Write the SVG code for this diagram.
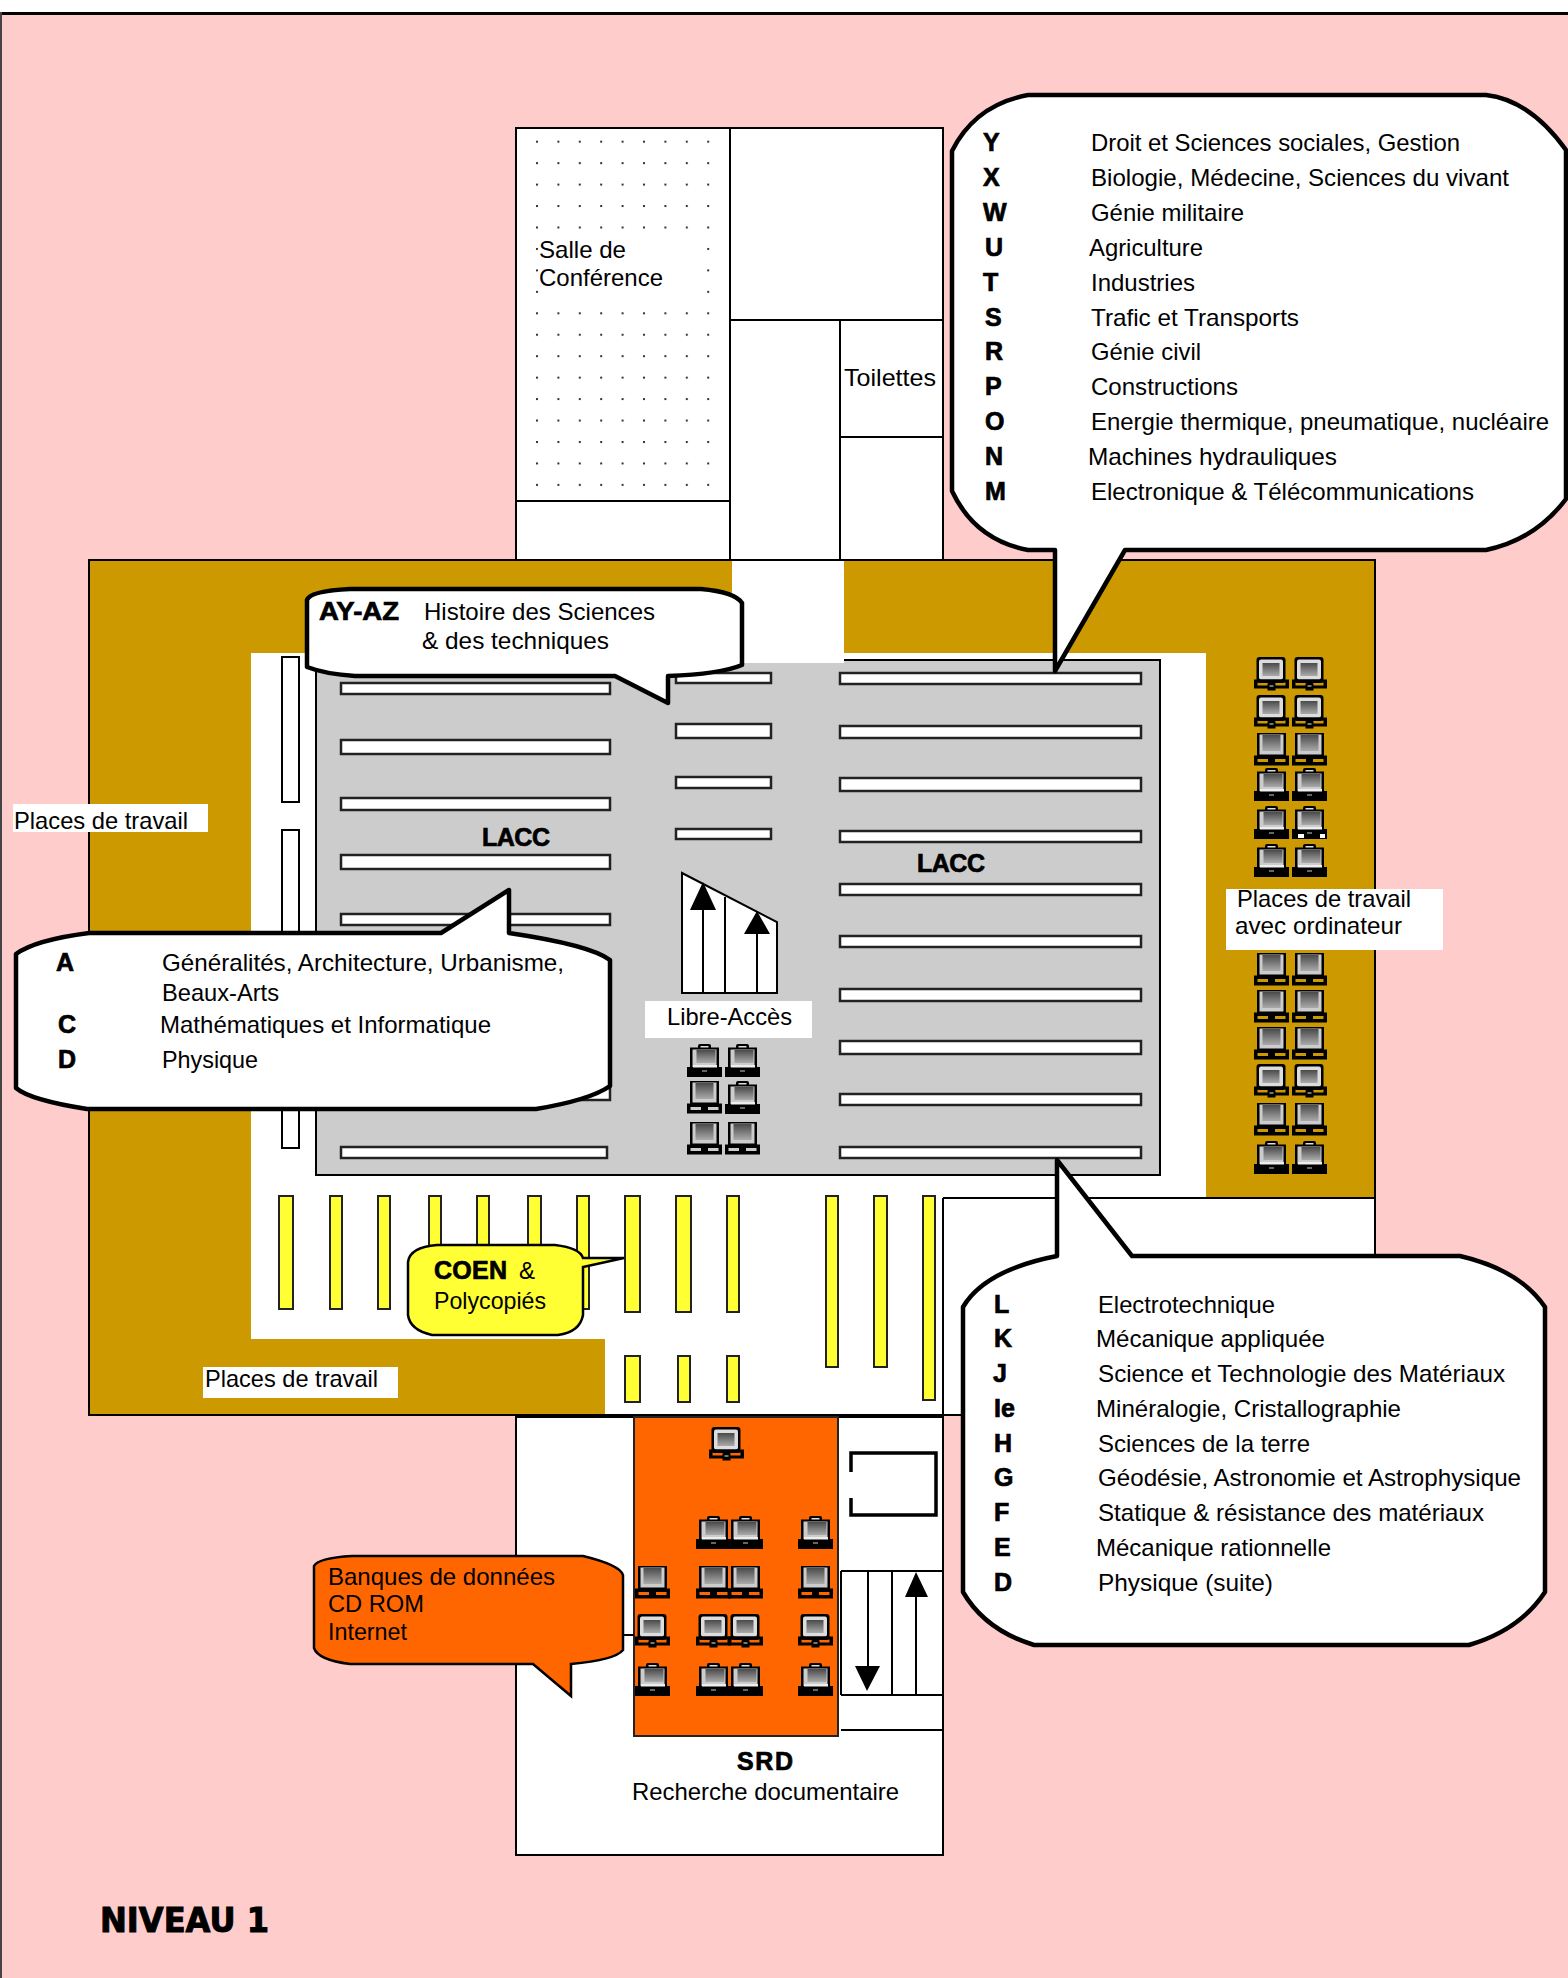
<svg xmlns="http://www.w3.org/2000/svg" width="1568" height="1978" viewBox="0 0 1568 1978">
<style>
text{font-family:"Liberation Sans",Arial,sans-serif;font-size:24px;fill:#000}
.b{font-weight:bold;font-size:25px;stroke:#000;stroke-width:.7px}
.ln{fill:none;stroke:#000;stroke-width:2}
.wb{fill:#fff;stroke:#000;stroke-width:2}
.sh{fill:#fff;stroke:#222;stroke-width:2.5}
.ye{fill:#FFFF33;stroke:#222;stroke-width:2}
.co{fill:#fff;stroke:#000;stroke-width:4.5;stroke-linejoin:round}
.lb{fill:#fff}
</style>
<defs>
<pattern id="dots" patternUnits="userSpaceOnUse" x="536" y="140.7" width="21.4" height="21.45"><rect x="0" y="0" width="2" height="2" fill="#333"/></pattern>
<linearGradient id="scr" x1="0" y1="0" x2="0" y2="1"><stop offset="0" stop-color="#4a4a4a"/><stop offset="1" stop-color="#aaa"/></linearGradient>
<g id="pcA">
<rect x="1.5" y="-1" width="29" height="26" rx="3" fill="#000"/>
<rect x="4" y="1.5" width="24" height="20" rx="2" fill="#ddd"/>
<rect x="7.5" y="5" width="17" height="13" fill="url(#scr)"/>
<path fill-rule="evenodd" d="M-1 21.5H34V30.5H-1ZM2.5 24.5V27.5H13V24.5ZM20 24.5V27.5H30.5V24.5Z"/>
<rect x="12.5" y="25.5" width="8" height="7" fill="#000"/><rect x="14.5" y="27" width="4" height="2" fill="#777"/>
</g>
<g id="pcB">
<rect x="10" y="-1" width="13" height="7" rx="2" fill="#000"/><rect x="12.5" y="1" width="8" height="3" fill="#ddd"/>
<rect x="2" y="2.5" width="29" height="22" fill="#000"/>
<rect x="4.5" y="4.5" width="24" height="18" fill="#ccc"/>
<rect x="8.5" y="5" width="19" height="13" fill="url(#scr)"/>
<rect x="-1" y="22" width="35" height="10" fill="#000"/>
<rect x="5" y="20" width="24" height="2.5" fill="#eee"/>
<rect x="14" y="25" width="5" height="2" fill="#666"/>
</g>
<g id="pcC">
<rect x="2" y="-1" width="29" height="26" fill="#000"/>
<rect x="4.5" y="0.5" width="24" height="20" fill="#ccc"/>
<rect x="7.5" y="1" width="18" height="16" fill="url(#scr)"/>
<path fill-rule="evenodd" d="M-1 21.5H34V31.5H-1ZM2.5 25V28H13V25ZM20 25V28H30.5V25Z"/>
</g>
</defs>

<g id="background">
<rect x="0" y="0" width="1568" height="1978" fill="#FFCCCC"/>
<rect x="0" y="0" width="1568" height="12" fill="#fff"/>
<rect x="0" y="12" width="1568" height="3" fill="#000"/>
<rect x="0" y="12" width="2" height="1966" fill="#444"/>
</g>

<g id="upper-block">
<rect class="wb" x="516" y="128" width="427" height="432"/>
<rect x="530" y="135" width="185" height="358" fill="url(#dots)"/>
<rect x="542" y="240" width="161" height="60" fill="#fff"/>
<path class="ln" d="M516 501H730M730 128V560M730 320H943M840 320V560M840 437H943"/>
<text x="539" y="258" textLength="87" lengthAdjust="spacingAndGlyphs">Salle de</text>
<text x="539" y="286" textLength="124" lengthAdjust="spacingAndGlyphs">Conférence</text>
<text x="844" y="386" textLength="92" lengthAdjust="spacingAndGlyphs">Toilettes</text>
</g>

<g id="main-floor">
<rect x="89" y="560" width="1286" height="855" fill="#CC9900" stroke="#000" stroke-width="2"/>
<path fill="#fff" d="M251 653H732V561H844V653H1206V1199H1374V1414H605V1339H251Z"/>
<path class="ln" d="M943 1198H1375V1415M943 1198V1415"/>
<path d="M844 660H1160V1175H316V664H732V663H844Z" fill="#CCCCCC"/>
<path class="ln" d="M844 660H1160V1175H316V660H732"/>
</g>

<g id="shelves">
<rect class="wb" x="282" y="657" width="17" height="145"/>
<rect class="wb" x="282" y="830" width="17" height="318"/>
<rect class="sh" x="341" y="683" width="269" height="11"/>
<rect class="sh" x="341" y="740" width="269" height="14"/>
<rect class="sh" x="341" y="798" width="269" height="12"/>
<rect class="sh" x="341" y="855" width="269" height="14"/>
<rect class="sh" x="341" y="914" width="269" height="11"/>
<rect class="sh" x="341" y="971" width="269" height="12"/>
<rect class="sh" x="341" y="1030" width="269" height="12"/>
<rect class="sh" x="341" y="1088" width="269" height="12"/>
<rect class="sh" x="341" y="1147" width="266" height="11"/>
<rect class="sh" x="676" y="673" width="95" height="10"/>
<rect class="sh" x="676" y="724" width="95" height="14"/>
<rect class="sh" x="676" y="777" width="95" height="11"/>
<rect class="sh" x="676" y="829" width="95" height="10"/>
<rect class="sh" x="840" y="673" width="301" height="11"/>
<rect class="sh" x="840" y="726" width="301" height="12"/>
<rect class="sh" x="840" y="778" width="301" height="13"/>
<rect class="sh" x="840" y="831" width="301" height="11"/>
<rect class="sh" x="840" y="884" width="301" height="11"/>
<rect class="sh" x="840" y="936" width="301" height="11"/>
<rect class="sh" x="840" y="989" width="301" height="12"/>
<rect class="sh" x="840" y="1041" width="301" height="13"/>
<rect class="sh" x="840" y="1094" width="301" height="11"/>
<rect class="sh" x="840" y="1147" width="301" height="11"/>
<text class="b" x="482" y="846" textLength="68" lengthAdjust="spacing">LACC</text>
<text class="b" x="917" y="872" textLength="68" lengthAdjust="spacing">LACC</text>
</g>

<g id="yellow-shelves">
<rect class="ye" x="279" y="1196" width="14" height="113"/>
<rect class="ye" x="330" y="1196" width="12" height="113"/>
<rect class="ye" x="378" y="1196" width="12" height="113"/>
<rect class="ye" x="429" y="1196" width="12" height="113"/>
<rect class="ye" x="477" y="1196" width="12" height="113"/>
<rect class="ye" x="528" y="1196" width="13" height="113"/>
<rect class="ye" x="577" y="1196" width="12" height="113"/>
<rect class="ye" x="625" y="1196" width="15" height="116"/>
<rect class="ye" x="676" y="1196" width="15" height="116"/>
<rect class="ye" x="727" y="1196" width="12" height="116"/>
<rect class="ye" x="826" y="1196" width="12" height="171"/>
<rect class="ye" x="874" y="1196" width="13" height="171"/>
<rect class="ye" x="923" y="1196" width="12" height="204"/>
<rect class="ye" x="625" y="1356" width="15" height="46"/>
<rect class="ye" x="678" y="1356" width="12" height="46"/>
<rect class="ye" x="727" y="1356" width="12" height="46"/>
</g>

<g id="libre-acces">
<polygon class="wb" points="682,873 777,922 777,993 682,993"/>
<path class="ln" d="M703 905V993M725 897V993M757 930V993"/>
<polygon points="703,882 716,910 690,910"/>
<polygon points="757,911 770,934 744,934"/>
<rect class="lb" x="645" y="1001" width="167" height="37"/>
<text x="667" y="1025" textLength="125" lengthAdjust="spacingAndGlyphs">Libre-Accès</text>
<use href="#pcB" x="688" y="1045"/><use href="#pcB" x="726" y="1045"/>
<use href="#pcC" x="688" y="1082"/><use href="#pcB" x="726" y="1082"/>
<use href="#pcC" x="688" y="1123"/><use href="#pcC" x="726" y="1123"/>
</g>

<g id="computers-right">
<use href="#pcA" x="1255" y="658"/><use href="#pcA" x="1293" y="658"/>
<use href="#pcA" x="1255" y="696"/><use href="#pcA" x="1293" y="696"/>
<use href="#pcC" x="1255" y="734"/><use href="#pcC" x="1293" y="734"/>
<use href="#pcB" x="1255" y="769"/><use href="#pcB" x="1293" y="769"/>
<use href="#pcB" x="1255" y="807"/><use href="#pcB" x="1293" y="807"/>
<rect x="1298" y="834" width="6" height="4" fill="#fff"/><rect x="1320" y="834" width="5" height="4" fill="#fff"/>
<use href="#pcB" x="1255" y="845"/><use href="#pcB" x="1293" y="845"/>
<use href="#pcC" x="1255" y="954"/><use href="#pcC" x="1293" y="954"/>
<use href="#pcC" x="1255" y="991"/><use href="#pcC" x="1293" y="991"/>
<use href="#pcC" x="1255" y="1028"/><use href="#pcC" x="1293" y="1028"/>
<use href="#pcA" x="1255" y="1065"/><use href="#pcA" x="1293" y="1065"/>
<use href="#pcC" x="1255" y="1104"/><use href="#pcC" x="1293" y="1104"/>
<use href="#pcB" x="1255" y="1142"/><use href="#pcB" x="1293" y="1142"/>
</g>

<g id="work-labels">
<rect class="lb" x="13" y="804" width="195" height="28"/>
<text x="14" y="829" textLength="174" lengthAdjust="spacingAndGlyphs">Places de travail</text>
<rect class="lb" x="203" y="1367" width="195" height="31"/>
<text x="205" y="1387" textLength="173" lengthAdjust="spacingAndGlyphs">Places de travail</text>
<rect class="lb" x="1226" y="889" width="217" height="61"/>
<text x="1237" y="907" textLength="174" lengthAdjust="spacingAndGlyphs">Places de travail</text>
<text x="1235" y="934" textLength="167" lengthAdjust="spacingAndGlyphs">avec ordinateur</text>
</g>

<g id="lower-block">
<rect class="wb" x="516" y="1417" width="427" height="438"/>
<rect x="634" y="1417" width="204" height="319" fill="#FF6600" stroke="#222" stroke-width="2"/>
<path d="M851 1472V1453H936V1515H851V1498" fill="none" stroke="#000" stroke-width="3.5"/>
<path class="ln" d="M841 1571H943M841 1571V1695M841 1695H943M841 1730H943M892 1571V1695"/>
<path class="ln" d="M868 1571V1670M916 1595V1695"/>
<polygon points="867,1691 855,1666 880,1666"/>
<polygon points="916,1572 905,1597 928,1597"/>
<use href="#pcA" x="710" y="1428"/>
<use href="#pcB" x="697" y="1517"/><use href="#pcB" x="729" y="1517"/><use href="#pcB" x="799" y="1517"/>
<use href="#pcC" x="636" y="1567"/><use href="#pcC" x="697" y="1567"/><use href="#pcC" x="729" y="1567"/><use href="#pcC" x="799" y="1567"/>
<use href="#pcA" x="636" y="1615"/><use href="#pcA" x="697" y="1615"/><use href="#pcA" x="729" y="1615"/><use href="#pcA" x="799" y="1615"/>
<use href="#pcB" x="636" y="1664"/><use href="#pcB" x="697" y="1664"/><use href="#pcB" x="729" y="1664"/><use href="#pcB" x="799" y="1664"/>
<text class="b" x="737" y="1770" textLength="56" lengthAdjust="spacing">SRD</text>
<text x="632" y="1800" textLength="267" lengthAdjust="spacingAndGlyphs">Recherche documentaire</text>
</g>

<g id="callout-ayaz">
<path class="co" d="M350 589H701Q735 592 742 603V665Q720 674 668 676V703L615 676H355Q325 674 307 667V600Q310 591 350 589Z"/>
<text class="b" x="319" y="620" textLength="80" lengthAdjust="spacingAndGlyphs">AY-AZ</text>
<text x="424" y="620" textLength="231" lengthAdjust="spacingAndGlyphs">Histoire des Sciences</text>
<text x="422" y="649" textLength="187" lengthAdjust="spacingAndGlyphs">&amp; des techniques</text>
</g>

<g id="callout-acd">
<path class="co" d="M89 933H441L509 890V933Q590 945 610 960V1086Q590 1100 536 1109H87Q30 1100 16 1088V954Q35 940 89 933Z"/>
<text class="b" x="56" y="971">A</text>
<text x="162" y="971" textLength="402" lengthAdjust="spacingAndGlyphs">Généralités, Architecture, Urbanisme,</text>
<text x="162" y="1001" textLength="117" lengthAdjust="spacingAndGlyphs">Beaux-Arts</text>
<text class="b" x="58" y="1033">C</text>
<text x="160" y="1033" textLength="331" lengthAdjust="spacingAndGlyphs">Mathématiques et Informatique</text>
<text class="b" x="58" y="1068">D</text>
<text x="162" y="1068" textLength="96" lengthAdjust="spacingAndGlyphs">Physique</text>
</g>

<g id="callout-top-right">
<path class="co" d="M1028 95H1486Q1530 100 1566 150V499Q1535 540 1486 550H1125L1055 671V550H1028Q975 540 952 491V151Q975 105 1028 95Z"/>
<text class="b" x="983" y="151">Y</text><text x="1091" y="151" textLength="369" lengthAdjust="spacingAndGlyphs">Droit et Sciences sociales, Gestion</text>
<text class="b" x="983" y="186">X</text><text x="1091" y="186" textLength="418" lengthAdjust="spacingAndGlyphs">Biologie, Médecine, Sciences du vivant</text>
<text class="b" x="983" y="221">W</text><text x="1091" y="221" textLength="153" lengthAdjust="spacingAndGlyphs">Génie militaire</text>
<text class="b" x="985" y="256">U</text><text x="1089" y="256" textLength="114" lengthAdjust="spacingAndGlyphs">Agriculture</text>
<text class="b" x="983" y="291">T</text><text x="1091" y="291" textLength="104" lengthAdjust="spacingAndGlyphs">Industries</text>
<text class="b" x="985" y="326">S</text><text x="1091" y="326" textLength="208" lengthAdjust="spacingAndGlyphs">Trafic et Transports</text>
<text class="b" x="985" y="360">R</text><text x="1091" y="360" textLength="110" lengthAdjust="spacingAndGlyphs">Génie civil</text>
<text class="b" x="985" y="395">P</text><text x="1091" y="395" textLength="147" lengthAdjust="spacingAndGlyphs">Constructions</text>
<text class="b" x="985" y="430">O</text><text x="1091" y="430" textLength="458" lengthAdjust="spacingAndGlyphs">Energie thermique, pneumatique, nucléaire</text>
<text class="b" x="985" y="465">N</text><text x="1088" y="465" textLength="249" lengthAdjust="spacingAndGlyphs">Machines hydrauliques</text>
<text class="b" x="985" y="500">M</text><text x="1091" y="500" textLength="383" lengthAdjust="spacingAndGlyphs">Electronique &amp; Télécommunications</text>
</g>

<g id="callout-bottom-right">
<path class="co" d="M1057 1256V1160L1132 1256H1460Q1520 1270 1545 1307V1592Q1520 1630 1469 1645H1034Q985 1630 963 1592V1307Q985 1270 1057 1256Z"/>
<text class="b" x="994" y="1313">L</text><text x="1098" y="1313" textLength="177" lengthAdjust="spacingAndGlyphs">Electrotechnique</text>
<text class="b" x="994" y="1347">K</text><text x="1096" y="1347" textLength="229" lengthAdjust="spacingAndGlyphs">Mécanique appliquée</text>
<text class="b" x="993" y="1382">J</text><text x="1098" y="1382" textLength="407" lengthAdjust="spacingAndGlyphs">Science et Technologie des Matériaux</text>
<text class="b" x="994" y="1417">Ie</text><text x="1096" y="1417" textLength="305" lengthAdjust="spacingAndGlyphs">Minéralogie, Cristallographie</text>
<text class="b" x="994" y="1452">H</text><text x="1098" y="1452" textLength="212" lengthAdjust="spacingAndGlyphs">Sciences de la terre</text>
<text class="b" x="994" y="1486">G</text><text x="1098" y="1486" textLength="423" lengthAdjust="spacingAndGlyphs">Géodésie, Astronomie et Astrophysique</text>
<text class="b" x="994" y="1521">F</text><text x="1098" y="1521" textLength="386" lengthAdjust="spacingAndGlyphs">Statique &amp; résistance des matériaux</text>
<text class="b" x="994" y="1556">E</text><text x="1096" y="1556" textLength="235" lengthAdjust="spacingAndGlyphs">Mécanique rationnelle</text>
<text class="b" x="994" y="1591">D</text><text x="1098" y="1591" textLength="175" lengthAdjust="spacingAndGlyphs">Physique (suite)</text>
</g>

<g id="callout-coen">
<path d="M437 1245H555Q580 1248 583 1258H624L583 1267V1315Q580 1332 558 1335H432Q410 1330 408 1315V1262Q410 1247 437 1245Z" fill="#FFFF33" stroke="#000" stroke-width="2.5"/>
<text class="b" x="434" y="1279" textLength="73" lengthAdjust="spacing">COEN</text>
<text x="519" y="1279">&amp;</text>
<text x="434" y="1309" textLength="112" lengthAdjust="spacingAndGlyphs">Polycopiés</text>
</g>

<g id="callout-banques">
<path class="ln" d="M623 1635H634"/>
<path d="M352 1556H583Q620 1565 623 1575V1650Q615 1660 571 1664V1696L533 1664H350Q318 1660 314 1648V1566Q318 1558 352 1556Z" fill="#FF6600" stroke="#000" stroke-width="2.5"/>
<text x="328" y="1585" textLength="227" lengthAdjust="spacingAndGlyphs">Banques de données</text>
<text x="328" y="1612" textLength="96" lengthAdjust="spacingAndGlyphs">CD ROM</text>
<text x="328" y="1640" textLength="79" lengthAdjust="spacingAndGlyphs">Internet</text>
</g>

<g id="title">
<text x="100" y="1932" textLength="169" lengthAdjust="spacingAndGlyphs" style="font-family:'DejaVu Sans','Liberation Sans',sans-serif;font-weight:bold;font-size:33px;stroke:#000;stroke-width:1">NIVEAU 1</text>
</g>
</svg>
